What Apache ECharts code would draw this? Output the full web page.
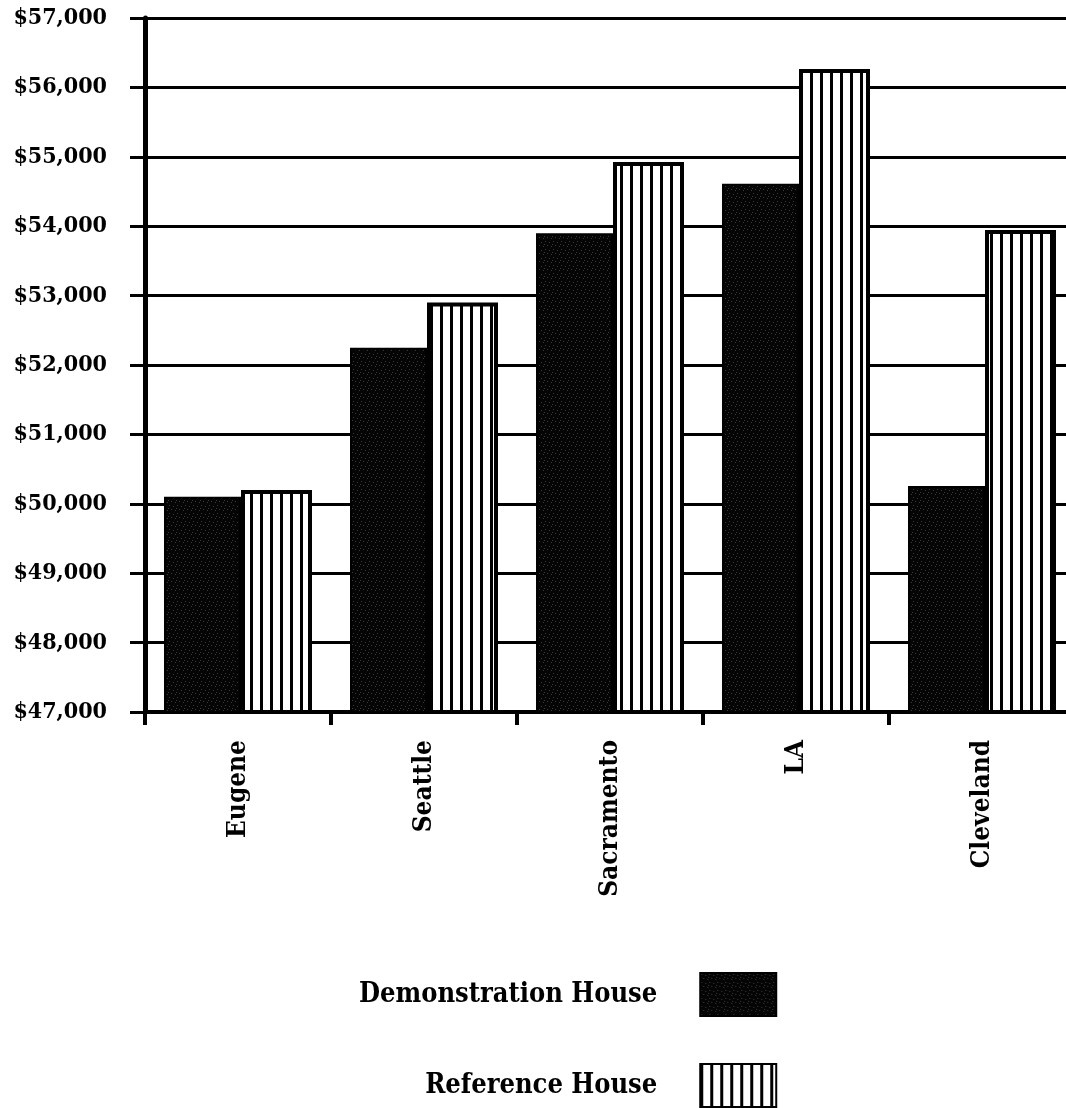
<!DOCTYPE html>
<html>
<head>
<meta charset="utf-8">
<script src="https://cdn.jsdelivr.net/npm/echarts@6/dist/echarts.min.js"></script>
<style>
  html, body { margin: 0; padding: 0; background: #fff; overflow: hidden; }
  #chart { width: 1075px; height: 1108px; }
</style>
</head>
<body>
<div id="chart"></div>
<script>
// Annual cost by city for the two houses
const cities = ['Eugene', 'Seattle', 'Sacramento', 'LA', 'Cleveland'];
const demonstrationHouse = [50100, 52250, 53900, 54610, 50255];
const referenceHouse = [50200, 52900, 54925, 56265, 53945];
const seriesNames = ['Demonstration House', 'Reference House'];
const yMin = 47000, yMax = 57000, yStep = 1000;

const FONT = '"DejaVu Serif Condensed", "DejaVu Serif", serif';

// Dark stippled fill
function stipplePattern() {
  const c = document.createElement('canvas');
  c.width = 8; c.height = 8;
  const g = c.getContext('2d');
  g.fillStyle = '#050505';
  g.fillRect(0, 0, 8, 8);
  g.fillStyle = '#3a3a3a';
  [[1, 1], [5, 2], [3, 5], [7, 6], [0, 4]].forEach(function (p) { g.fillRect(p[0], p[1], 1, 1); });
  return c;
}
// Vertical stripes on white
function stripePattern() {
  const c = document.createElement('canvas');
  c.width = 10; c.height = 10;
  const g = c.getContext('2d');
  g.fillStyle = '#ffffff';
  g.fillRect(0, 0, 10, 10);
  g.fillStyle = '#000000';
  g.fillRect(0, 0, 3, 10);
  return c;
}

// The plot runs slightly past the right edge of the window
const chart = echarts.init(document.getElementById('chart'), null, { renderer: 'canvas' });
chart.setOption({
  backgroundColor: '#ffffff',
  animation: false,
  grid: { left: 145, top: 18, right: 0, bottom: 396, containLabel: false },
  legend: {
    orient: 'vertical',
    left: 359,
    top: 972,
    padding: 0,
    align: 'right',
    itemWidth: 76,
    itemHeight: 43,
    itemGap: 46,
    icon: 'rect',
    selectedMode: false,
    textStyle: { fontFamily: FONT, fontWeight: 'bold', fontSize: 27, color: '#000', padding: [0, 38, 0, 0] },
    data: seriesNames
  },
  xAxis: {
    type: 'category',
    data: cities,
    axisLine: { lineStyle: { color: '#000', width: 4 } },
    axisTick: { show: true, length: 13, lineStyle: { color: '#000', width: 4 } },
    axisLabel: { rotate: 90, margin: 28, fontFamily: FONT, fontWeight: 'bold', fontSize: 26, color: '#000' },
    splitLine: { show: false }
  },
  yAxis: {
    type: 'value',
    min: yMin,
    max: yMax,
    interval: yStep,
    axisLine: { show: true, lineStyle: { color: '#000', width: 5 } },
    axisTick: { show: true, length: 15, lineStyle: { color: '#000', width: 3 } },
    axisLabel: {
      margin: 38,
      fontFamily: FONT, fontWeight: 'bold', fontSize: 23, color: '#000',
      formatter: function (v) { return '$' + v.toLocaleString('en-US'); }
    },
    splitLine: { show: true, lineStyle: { color: '#000', width: 3 } }
  },
  series: [
    {
      name: seriesNames[0],
      type: 'bar',
      data: demonstrationHouse,
      barWidth: 77,
      barGap: '0%',
      itemStyle: { color: { image: stipplePattern(), repeat: 'repeat' }, borderColor: '#000', borderWidth: 2 }
    },
    {
      name: seriesNames[1],
      type: 'bar',
      data: referenceHouse,
      barWidth: 71,
      barGap: '0%',
      itemStyle: { color: { image: stripePattern(), repeat: 'repeat' }, borderColor: '#000', borderWidth: 4 }
    }
  ]
});
</script>
</body>
</html>
